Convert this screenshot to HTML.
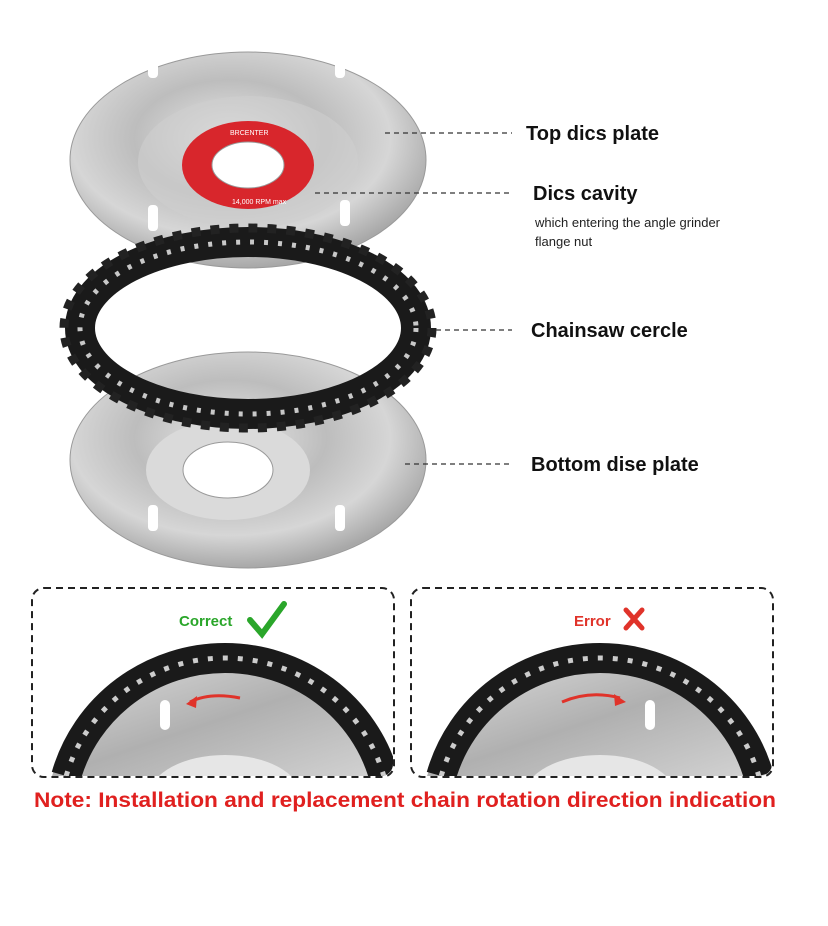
<!DOCTYPE html>
<html><head><meta charset="utf-8"><style>
html,body{margin:0;padding:0;background:#fff;width:828px;height:926px;overflow:hidden;position:relative}
svg{display:block;position:absolute;left:0;top:0}
text{font-family:"Liberation Sans",sans-serif}
</style></head><body>
<svg width="828" height="926" viewBox="0 0 828 926" xmlns="http://www.w3.org/2000/svg">
<defs>
<radialGradient id="silver" cx="45%" cy="40%" r="60%">
<stop offset="0" stop-color="#e8e8e8"/><stop offset="0.45" stop-color="#bdbdbd"/><stop offset="0.75" stop-color="#d6d6d6"/><stop offset="1" stop-color="#a8a8a8"/>
</radialGradient>
<linearGradient id="silv2" x1="0" y1="0" x2="1" y2="1">
<stop offset="0" stop-color="#dedede"/><stop offset="0.5" stop-color="#b0b0b0"/><stop offset="1" stop-color="#d4d4d4"/>
</linearGradient>
<clipPath id="c1"><rect x="33" y="589" width="360" height="187" rx="12"/></clipPath>
<clipPath id="c2"><rect x="412" y="589" width="360" height="187" rx="12"/></clipPath>
</defs>

<ellipse cx="248" cy="160" rx="178" ry="108" fill="url(#silver)" stroke="#999"/>
<ellipse cx="248" cy="162" rx="110" ry="66" fill="#cfcfcf" opacity="0.6"/>
<g fill="#fff">
<rect x="148" y="52" width="10" height="26" rx="4"/>
<rect x="335" y="52" width="10" height="26" rx="4"/>
<rect x="148" y="205" width="10" height="26" rx="4"/>
<rect x="340" y="200" width="10" height="26" rx="4"/>
</g>
<ellipse cx="248" cy="165" rx="66" ry="44" fill="#d8262c"/>
<ellipse cx="248" cy="165" rx="36" ry="23" fill="#fff" stroke="#999"/>
<text x="230" y="135" font-size="7" fill="#fff">BRCENTER</text>
<text x="232" y="204" font-size="7" fill="#fff">14,000 RPM max</text>

<ellipse cx="248" cy="460" rx="178" ry="108" fill="url(#silver)" stroke="#999"/>
<ellipse cx="228" cy="470" rx="82" ry="50" fill="#dadada"/>
<ellipse cx="228" cy="470" rx="45" ry="28" fill="#fff" stroke="#999"/>
<g fill="#fff">
<rect x="148" y="505" width="10" height="26" rx="4"/>
<rect x="335" y="505" width="10" height="26" rx="4"/>
</g>

<ellipse cx="248" cy="328" rx="168" ry="86" fill="none" stroke="#1a1a1a" stroke-width="30"/>
<ellipse cx="248" cy="328" rx="168" ry="86" fill="none" stroke="#c8c8c8" stroke-width="5" stroke-dasharray="4 10"/>
<ellipse cx="248" cy="328" rx="184" ry="100" fill="none" stroke="#222" stroke-width="9" stroke-dasharray="9 10"/>

<g stroke="#333" stroke-width="1.3" stroke-dasharray="5 4">
<line x1="385" y1="133" x2="512" y2="133"/>
<line x1="315" y1="193" x2="512" y2="193"/>
<line x1="436" y1="330" x2="512" y2="330"/>
<line x1="405" y1="464" x2="512" y2="464"/>
</g>
<g font-weight="bold" font-size="20" fill="#111">
<text x="526" y="140">Top dics plate</text>
<text x="533" y="200">Dics cavity</text>
<text x="531" y="337">Chainsaw cercle</text>
<text x="531" y="471">Bottom dise plate</text>
</g>
<text x="535" y="227" font-size="13" fill="#222">which entering the angle  grinder</text>
<text x="535" y="246" font-size="13" fill="#222">flange nut</text>

<g clip-path="url(#c1)">
<path d="M52 776 A180 160 0 0 1 398 776 Z" fill="url(#silv2)"/>
<path d="M66.2 776 A165 162 0 0 1 383.8 776" fill="none" stroke="#1a1a1a" stroke-width="30"/>
<path d="M66.2 776 A165 162 0 0 1 383.8 776" fill="none" stroke="#ccc" stroke-width="5" stroke-dasharray="5 10"/>
<ellipse cx="225" cy="795" rx="75" ry="40" fill="#e6e6e6"/>
<rect x="160" y="700" width="10" height="30" rx="5" fill="#fff"/>
<path d="M240 698 Q210 692 190 702" stroke="#e0332a" stroke-width="3" fill="none"/>
<path d="M186 704 L197 696 L196 708 Z" fill="#e0332a"/>
</g>
<rect x="32" y="588" width="362" height="189" rx="12" fill="none" stroke="#222" stroke-width="2" stroke-dasharray="7 5"/>
<text x="179" y="626" font-size="15" font-weight="bold" fill="#2aa62a">Correct</text>
<path d="M250 620 L262 634 L284 604" stroke="#2aa62a" stroke-width="6" fill="none" stroke-linecap="round"/>

<g clip-path="url(#c2)">
<path d="M427 776 A180 160 0 0 1 773 776 Z" fill="url(#silv2)"/>
<path d="M441.2 776 A165 162 0 0 1 758.8 776" fill="none" stroke="#1a1a1a" stroke-width="30"/>
<path d="M441.2 776 A165 162 0 0 1 758.8 776" fill="none" stroke="#ccc" stroke-width="5" stroke-dasharray="5 10"/>
<ellipse cx="600" cy="795" rx="75" ry="40" fill="#e6e6e6"/>
<rect x="645" y="700" width="10" height="30" rx="5" fill="#fff"/>
<path d="M562 702 Q590 690 620 698" stroke="#e0332a" stroke-width="3" fill="none"/>
<path d="M626 702 L614 694 L615 706 Z" fill="#e0332a"/>
</g>
<rect x="411" y="588" width="362" height="189" rx="12" fill="none" stroke="#222" stroke-width="2" stroke-dasharray="7 5"/>
<text x="574" y="626" font-size="15" font-weight="bold" fill="#e0332a">Error</text>
<path d="M626 610 L642 628 M642 610 L626 628" stroke="#e0332a" stroke-width="5" stroke-linecap="round"/>

<text x="34" y="807" font-size="21" font-weight="bold" fill="#e0201f" textLength="742" lengthAdjust="spacingAndGlyphs">Note: Installation and replacement chain rotation direction indication</text>
</svg>
</body></html>
